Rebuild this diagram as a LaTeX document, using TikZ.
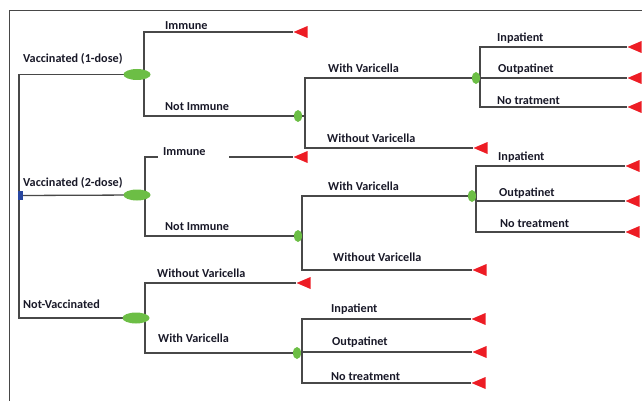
\documentclass[tikz,border=0pt]{standalone}
\usepackage{fontspec}
\setmainfont{Carlito}
\usetikzlibrary{positioning,shapes.geometric,backgrounds}
\definecolor{nodegreen}{RGB}{108,190,69}
\definecolor{endred}{RGB}{237,28,36}
\definecolor{linegray}{RGB}{72,72,72}
\definecolor{rootblue}{RGB}{40,70,160}
\definecolor{textdark}{RGB}{25,25,40}

\begin{document}
\begin{tikzpicture}[x=1pt,y=-1pt]
\tikzstyle{chance}=[ellipse, fill=nodegreen, minimum width=27pt, minimum height=11pt, inner sep=0]
\tikzstyle{small}=[ellipse, fill=nodegreen, minimum width=8pt, minimum height=12pt, inner sep=0]
\tikzstyle{payoff}=[isosceles triangle, isosceles triangle stretches, shape border rotate=180, fill=endred, minimum height=14pt, minimum width=12pt, inner sep=0, anchor=apex]
\tikzstyle{rootbox}=[rectangle, fill=rootblue, minimum width=5pt, minimum height=9pt, inner sep=0]
\tikzstyle{branch}=[draw=linegray, line width=1.3pt]
\tikzstyle{lbl}=[anchor=west, inner sep=0, font=\fontsize{12.2}{14}\selectfont\bfseries, text=textdark]
  \useasboundingbox (0,0) rectangle (642,401);
  \draw[linegray, line width=1pt] (9,401) -- (9,10.5) -- (642,10.5);
  % decision
  \node[rootbox] (root) at (20.5,195.5) {};
  \coordinate (top) at (19,74.5);
  \coordinate (bottom) at (19,318);
  \node[chance] (vac1) at (137,74.5) {};
  \node[chance] (vac2) at (137,195) {};
  \node[chance] (novac) at (136,318) {};
  \node[lbl] (lvac1) at (23,59) {Vaccinated (1-dose)};
  \node[lbl] (lvac2) at (23,183) {Vaccinated (2-dose)};
  \node[lbl] (lnovac) at (23,304) {Not-Vaccinated};
  % vaccinated 1 dose
  \coordinate (s1) at (144,74.5);
  \node[payoff] (imm1) at (293,32) {};
  \node[small] (ni1) at (298,116) {};
  \coordinate (s1a) at (305,116);
  \node[small] (wv1) at (476,78) {};
  \node[payoff] (wov1) at (473,148) {};
  \coordinate (s1b) at (480,78);
  \node[payoff] (inp1) at (627,47) {};
  \node[payoff] (out1) at (627,78) {};
  \node[payoff] (not1) at (627,107) {};
  \node[lbl] (limm1) at (165,26) {Immune};
  \node[lbl] (lni1) at (165,107) {Not Immune};
  \node[lbl] (lwv1) at (328,68) {With Varicella};
  \node[lbl] (lwov1) at (327,138) {Without Varicella};
  \node[lbl] (linp1) at (497,38) {Inpatient};
  \node[lbl] (lout1) at (498,69) {Outpatinet};
  \node[lbl] (lnot1) at (497,101) {No tratment};
  % vaccinated 2 dose
  \coordinate (s2) at (145,195);
  \node[payoff] (imm2) at (293,157) {};
  \node[small] (ni2) at (298,236) {};
  \coordinate (s2a) at (302,236);
  \node[small] (wv2) at (472,196) {};
  \node[payoff] (wov2) at (472,270) {};
  \coordinate (s2b) at (476,196);
  \node[payoff] (inp2) at (625,166) {};
  \node[payoff] (out2) at (625,201) {};
  \node[payoff] (not2) at (625,232) {};
  \node[lbl, fill=white, inner xsep=5pt, inner ysep=3pt, text width=61pt] (limm2) at (158,152) {Immune};
  \node[lbl] (lni2) at (165,227) {Not Immune};
  \node[lbl] (lwv2) at (328,186) {With Varicella};
  \node[lbl] (lwov2) at (333,257) {Without Varicella};
  \node[lbl] (linp2) at (498,157) {Inpatient};
  \node[lbl] (lout2) at (499,193) {Outpatinet};
  \node[lbl] (lnot2) at (500,224) {No treatment};
  % not vaccinated
  \coordinate (s3) at (145,318);
  \node[payoff] (wov3) at (296,283) {};
  \node[small] (wv3) at (297,353) {};
  \coordinate (s3a) at (302,353);
  \node[payoff] (inp3) at (471,319) {};
  \node[payoff] (out3) at (472,352) {};
  \node[payoff] (not3) at (471,383) {};
  \node[lbl] (lwov3) at (157,273) {Without Varicella};
  \node[lbl] (lwv3) at (158,338) {With Varicella};
  \node[lbl] (linp3) at (331,309) {Inpatient};
  \node[lbl] (lout3) at (332,342) {Outpatinet};
  \node[lbl] (lnot3) at (331,377) {No treatment};
  \begin{pgfonlayer}{background}
  \draw[branch] (vac1.center) -- (top) -- (bottom) -- (novac.center);
  \draw[branch] (root.center) -- (vac2.center);
  \draw[branch] (vac1.center) -- (s1) |- (imm1.apex);
  \draw[branch] (s1) |- (ni1.center) -- (s1a) |- (wv1.center) -- (s1b) |- (inp1.apex);
  \draw[branch] (s1a) |- (wov1.apex);
  \draw[branch] (s1b) |- (out1.apex);
  \draw[branch] (s1b) |- (not1.apex);
  \draw[branch] (vac2.center) -- (s2) |- (imm2.apex);
  \draw[branch] (s2) |- (ni2.center) -- (s2a) |- (wv2.center) -- (s2b) |- (inp2.apex);
  \draw[branch] (s2a) |- (wov2.apex);
  \draw[branch] (s2b) |- (out2.apex);
  \draw[branch] (s2b) |- (not2.apex);
  \draw[branch] (novac.center) -- (s3) |- (wov3.apex);
  \draw[branch] (s3) |- (wv3.center) -- (s3a) |- (inp3.apex);
  \draw[branch] (s3a) |- (out3.apex);
  \draw[branch] (s3a) |- (not3.apex);
  \end{pgfonlayer}
\end{tikzpicture}
\end{document}
